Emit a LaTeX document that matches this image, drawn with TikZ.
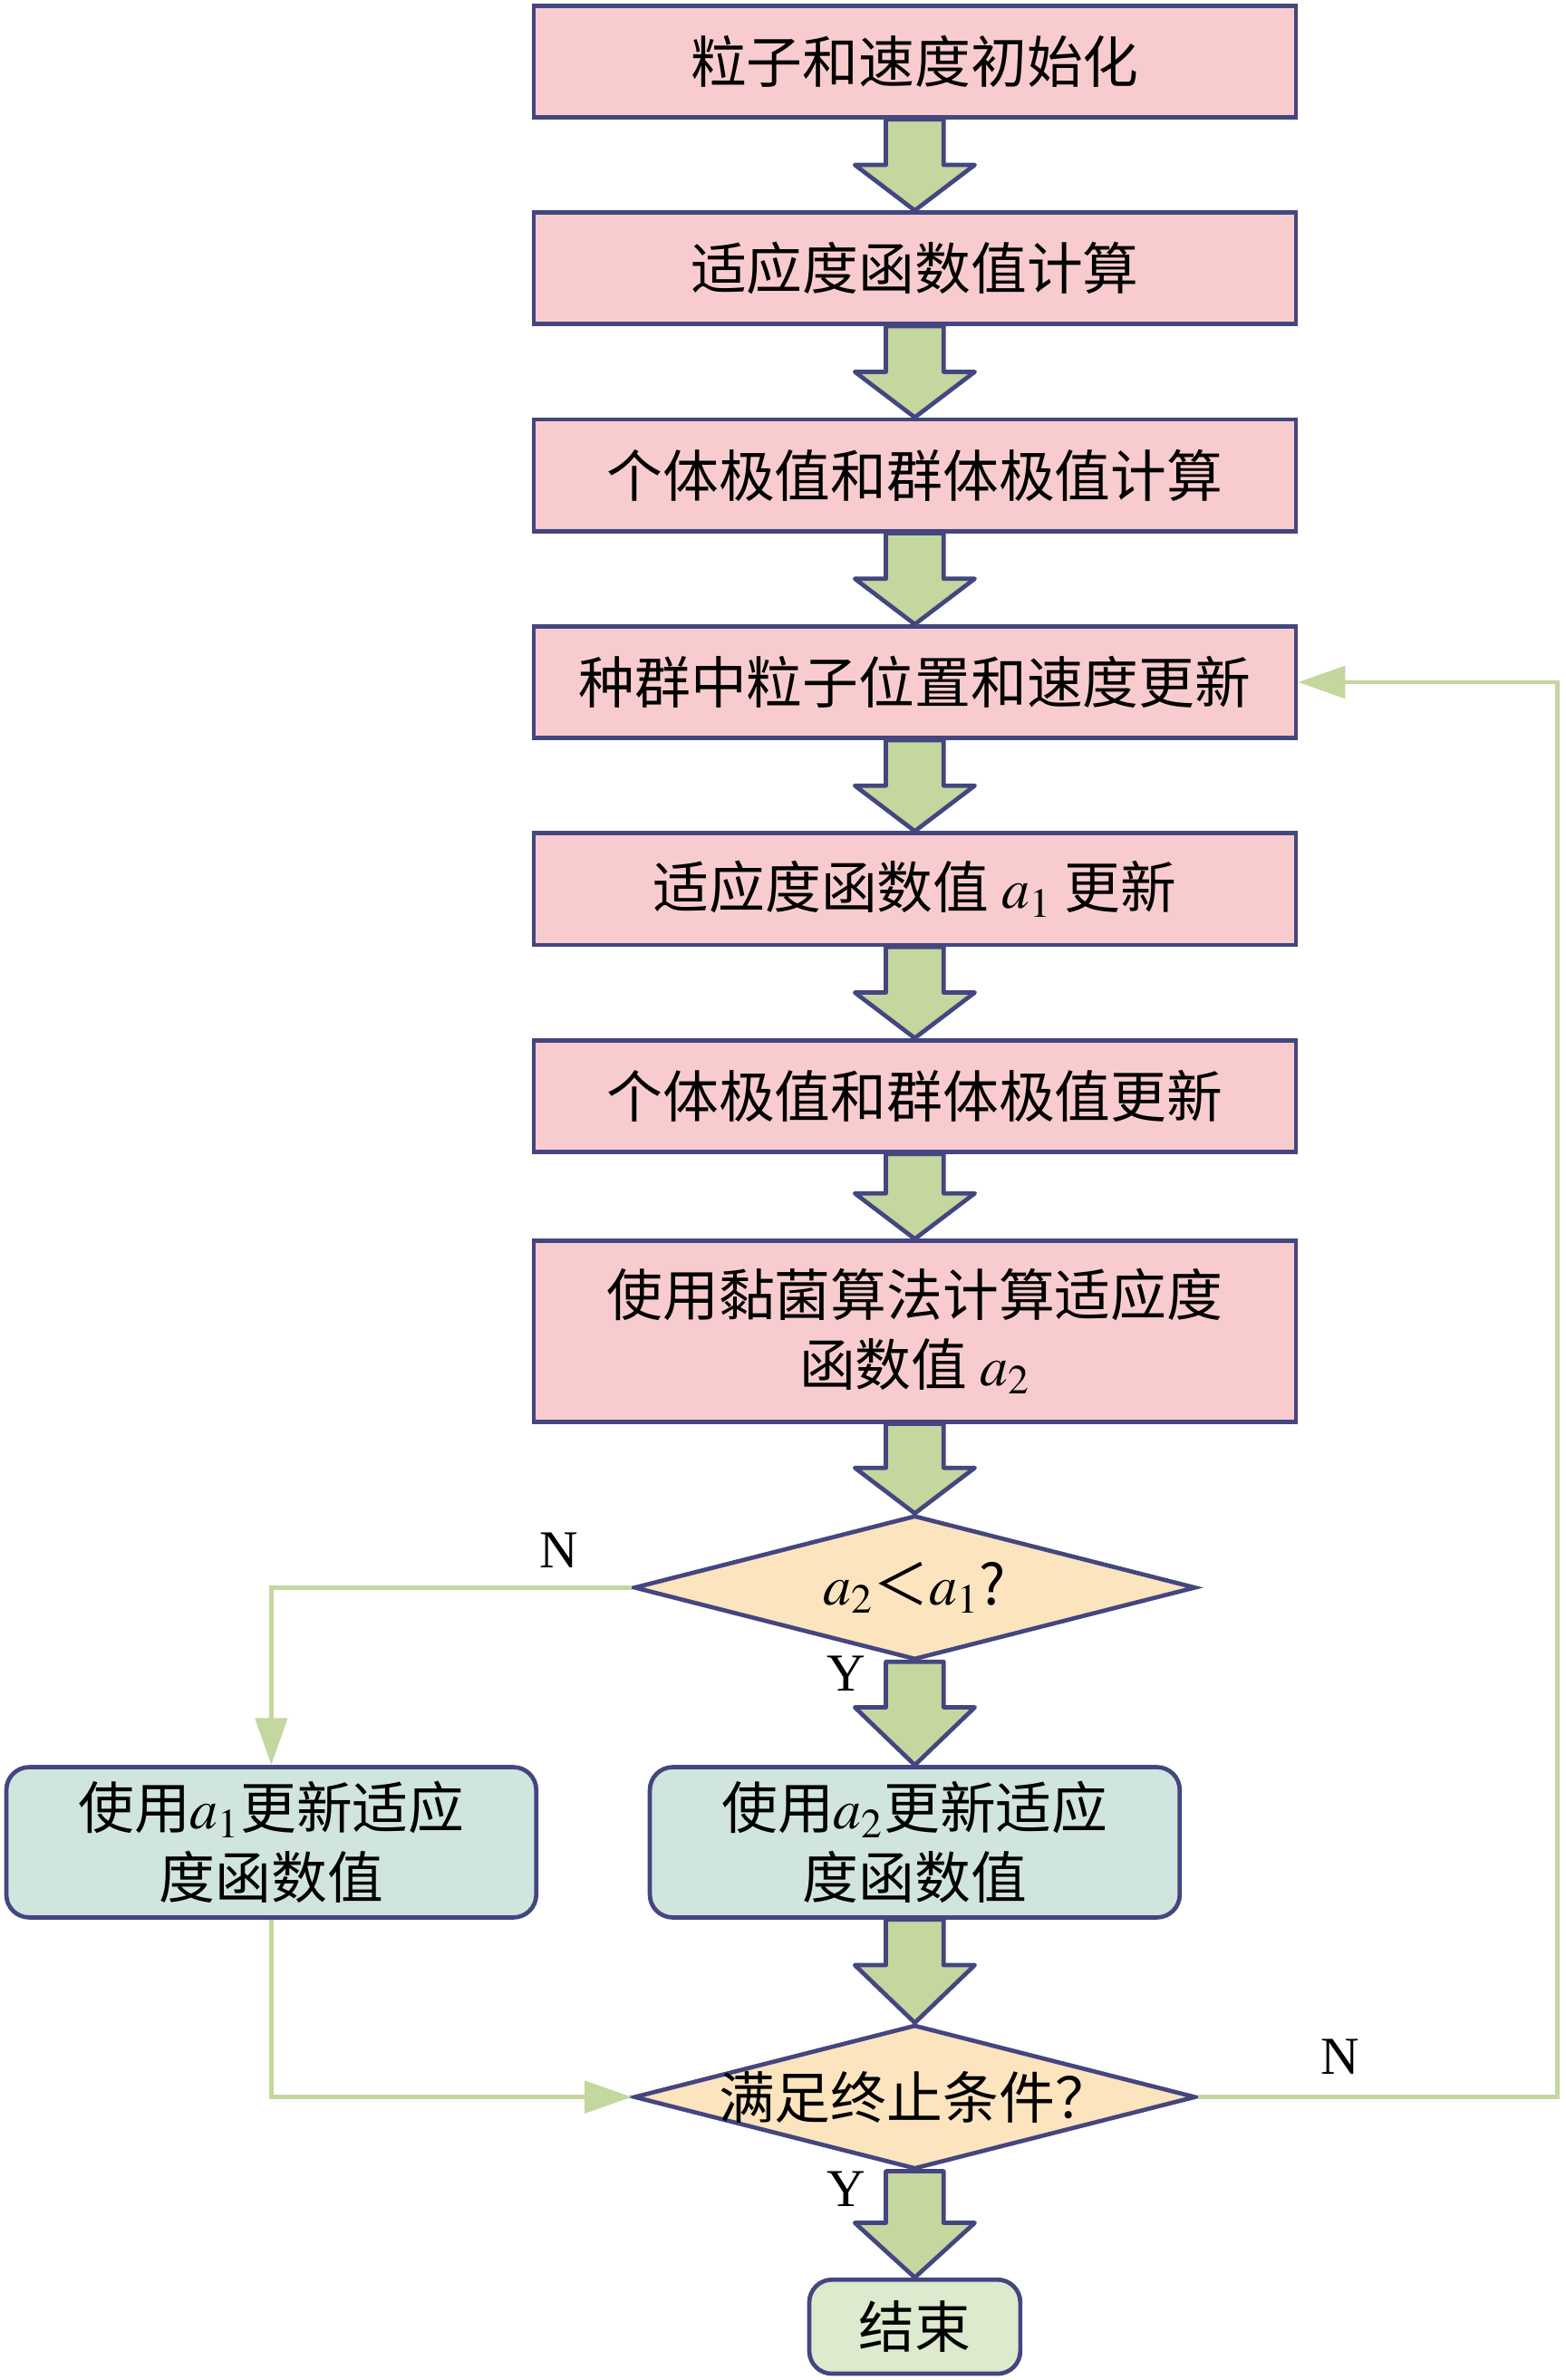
\documentclass[tikz,border=0pt]{standalone}
\usepackage{mathptmx}
\usepackage{fontspec}
\setmainfont{Liberation Serif}
\newfontfamily\cjk{Noto Sans CJK SC}
\usetikzlibrary{positioning, shapes.geometric, arrows.meta}

\definecolor{edgeblue}{RGB}{68,70,128}
\definecolor{boxpink}{RGB}{248,204,206}
\definecolor{diafill}{RGB}{252,228,190}
\definecolor{choicefill}{RGB}{208,229,220}
\definecolor{endfill}{RGB}{220,234,205}
\definecolor{arrowgreen}{RGB}{195,215,158}

\tikzset{
  process/.style={rectangle, draw=edgeblue, fill=boxpink, line width=1.6pt,
    minimum width=10.04cm, minimum height=1.47cm, align=center},
  decision/.style={diamond, draw=edgeblue, fill=diafill, line width=1.6pt,
    minimum width=7.4cm, minimum height=1.9cm, inner sep=0pt},
  choice/.style={rectangle, rounded corners=0.3cm, draw=edgeblue, fill=choicefill,
    line width=1.6pt, minimum width=6.98cm, minimum height=1.98cm, align=center},
  finish/.style={rectangle, rounded corners=0.3cm, draw=edgeblue, fill=endfill,
    line width=1.6pt, minimum width=2.78cm, minimum height=1.24cm},
  link/.style={draw=arrowgreen, line width=1.6pt,
    -{Triangle[length=0.62cm,width=0.42cm]}},
  bigarrow/.style={draw=edgeblue, fill=arrowgreen, line width=1.6pt, line join=round},
  yn/.style={font=\fontsize{20}{24}\selectfont}
}

% block arrow between two nodes: [head length]{from}{to}
\newcommand{\flowarrow}[3][0.6]{%
  \draw[bigarrow] ([xshift=-0.38cm]#2) -- ([shift={(-0.38,#1)}]#3)
    -- ([shift={(-0.79,#1)}]#3) -- (#3) -- ([shift={(0.79,#1)}]#3)
    -- ([shift={(0.38,#1)}]#3) -- ([xshift=0.38cm]#2) -- cycle;}

\begin{document}
\begin{tikzpicture}[font=\cjk\fontsize{21}{26}\selectfont]
  \useasboundingbox (0,0) rectangle (20.62,-31.36);

  % main column
  \node[process] (init) at (12.05,-0.81) {粒子和速度初始化};
  \node[process, below=1.2cm of init] (fit) {适应度函数值计算};
  \node[process, below=1.2cm of fit] (best) {个体极值和群体极值计算};
  \node[process, below=1.2cm of best] (move) {种群中粒子位置和速度更新};
  \node[process, below=1.2cm of move] (fitone) {适应度函数值 $a_1$ 更新};
  \node[process, below=1.2cm of fitone] (bestup) {个体极值和群体极值更新};
  \node[process, below=1.12cm of bestup, minimum height=2.38cm] (slime)
    {使用黏菌算法计算适应度\\函数值 $a_2$};
  \node[decision, below=1.18cm of slime] (cmp) {\makebox[0pt]{$a_2$＜$a_1$?}};
  \node[choice, below=1.36cm of cmp] (usetwo) {使用$a_2$更新适应\\度函数值};
  \node[choice, left=1.44cm of usetwo] (useone) {使用$a_1$更新适应\\度函数值};
  \node[decision, below=1.36cm of usetwo] (stop) {\makebox[0pt]{满足终止条件？}};
  \node[finish, below=1.4cm of stop] (end) {结束};

  % block arrows
  \flowarrow{init.south}{fit.north}
  \flowarrow{fit.south}{best.north}
  \flowarrow{best.south}{move.north}
  \flowarrow{move.south}{fitone.north}
  \flowarrow{fitone.south}{bestup.north}
  \flowarrow{bestup.south}{slime.north}
  \flowarrow{slime.south}{cmp.north}
  \flowarrow[0.76]{cmp.south}{usetwo.north}
  \flowarrow[0.76]{usetwo.south}{stop.north}
  \flowarrow[0.72]{stop.south}{end.north}

  % thin connectors
  \draw[link] (cmp.west) -| (useone.north);
  \draw[link] (useone.south) |- (stop.west);
  \draw[link] (stop.east) -- ++(4.74,0) |- (move.east);

  % branch labels
  \node[yn, above left=0.14cm and 0.58cm of cmp.west] (nleft) {N};
  \node[yn, below left=-0.2cm and 0.52cm of cmp.south] (yleft) {Y};
  \node[yn, above right=0.18cm and 1.5cm of stop.east] (nright) {N};
  \node[yn, below left=-0.12cm and 0.52cm of stop.south] (yend) {Y};
\end{tikzpicture}
\end{document}
